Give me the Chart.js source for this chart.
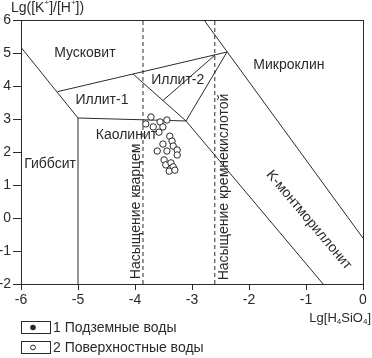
<!DOCTYPE html>
<html><head><meta charset="utf-8">
<script src="https://cdn.jsdelivr.net/npm/chart.js@4"></script>
<style>html,body{margin:0;padding:0;background:#fff}#wrap{width:372px;height:358px}</style>
</head><body><div id="wrap"><canvas id="c" width="372" height="358"></canvas></div>
<script>
// ---- data ----
const xTicks = [-6,-5,-4,-3,-2,-1,0];
const yTicks = [-2,-1,0,1,2,3,4,5,6];
// surface water samples: Lg[H4SiO4], Lg([K+]/[H+])
const surfaceX = [-3.72,-3.56,-3.44,-3.81,-3.68,-3.51,-3.58,-3.39,-3.51,-3.35,-3.61,-3.44,-3.33,-3.26,-3.26,-3.49,-3.46,-3.37,-3.33,-3.40,-3.30];
const surfaceY = [3.06,2.91,2.97,2.85,2.76,2.76,2.60,2.48,2.24,2.33,2.03,2.03,2.18,2.06,1.91,1.76,1.61,1.67,1.55,1.42,1.45];
const groundX = [];
const groundY = [];
// phase boundaries
const lineGibbsiteMuscovite = [[-6,5.17],[-5,3.03]];
const lineGibbsiteKaolinite = [[-5,-2],[-5,3.03]];
const lineKaoliniteIllite1 = [[-5,3.03],[-3.105,2.94]];
const lineMuscoviteIllite = [[-5.356,3.83],[-2.386,5.03]];
const lineIllite1Illite2 = [[-4.035,4.364],[-3.105,2.94]];
const lineIllite2Right = [[-3.51,3.56],[-2.596,4.94]];
const lineKmontLeftTop = [[-2.386,5.03],[-3.105,2.94]];
const lineKaoliniteKmont = [[-3.105,2.94],[-0.70,-2]];
const lineMicrocline = [[-2.79,6],[0,-0.61]];
const quartzSaturation = [[-3.86,-2],[-3.86,6]];
const silicaSaturation = [[-2.6,-2],[-2.6,6]];
// texts
const regionNames = ['Мусковит','Иллит-1','Иллит-2','Каолинит','Гиббсит','Микроклин','K-монтмориллонит','Насыщение кварцем','Насыщение кремнекислотой'];
const regionX = [-4.88,-4.58,-3.25,-4.15,-5.49,-1.30,-0.95,-3.98,-2.44];
const regionY = [5.0,3.58,4.18,2.52,1.64,4.64,-0.06,0.2,0.94];
const seriesNames = ['1 Подземные воды','2 Поверхностные воды'];

// ---- build ----
const ink = '#2a2a2a';
const FONT = '"Liberation Sans", Arial, sans-serif';
const pts = (xs, ys) => xs.map((x,i)=>({x, y: ys[i]}));
const seg = a => a.map(p=>({x:p[0], y:p[1]}));
const lineDs = (a, dash) => ({type:'line', data: seg(a), borderColor: ink, borderWidth: 1, pointRadius: 0, borderDash: dash||[], fill:false, tension:0});

const datasets = [
  {label: seriesNames[1], data: pts(surfaceX, surfaceY), pointRadius: 3.2, pointBackgroundColor:'#fff', pointBorderColor: ink, pointBorderWidth: 1, showLine:false},
  {label: seriesNames[0], data: pts(groundX, groundY), pointRadius: 3, pointBackgroundColor: ink, pointBorderColor: ink, showLine:false},
  lineDs(lineGibbsiteMuscovite), lineDs(lineGibbsiteKaolinite), lineDs(lineKaoliniteIllite1),
  lineDs(lineMuscoviteIllite), lineDs(lineIllite1Illite2), lineDs(lineIllite2Right),
  lineDs(lineKmontLeftTop), lineDs(lineKaoliniteKmont), lineDs(lineMicrocline),
  lineDs(quartzSaturation,[4,3]), lineDs(silicaSaturation,[4,3])
];

function runsWidth(ctx, runs, size){
  let w = 0;
  for (const [t, kind] of runs){
    const s = kind==='n' ? size : Math.round(size*0.6);
    ctx.font = s + 'px ' + FONT; w += ctx.measureText(t).width;
  }
  return w;
}
function drawRuns(ctx, runs, x, y, size){
  for (const [t, kind] of runs){
    const s = kind==='n' ? size : Math.round(size*0.6);
    ctx.font = s + 'px ' + FONT;
    const dy = kind==='sup' ? -size*0.35 : kind==='sub' ? size*0.3 : 0;
    ctx.fillText(t, x, y + dy);
    x += ctx.measureText(t).width;
  }
}

const labelsPlugin = {
  id: 'labels',
  afterDatasetsDraw(chart){
    const {ctx, chartArea: a, scales: {x, y}} = chart;
    ctx.save();
    ctx.strokeStyle = ink; ctx.lineWidth = 1;
    ctx.strokeRect(Math.round(a.left)+0.5, Math.round(a.top)+0.5, Math.round(a.right-a.left), Math.round(a.bottom-a.top));
    ctx.fillStyle = ink;
    ctx.textAlign = 'center'; ctx.textBaseline = 'middle';
    ctx.font = '14px ' + FONT;
    const rot = [0,0,0,0,0,0,50,-90,-90];
    regionNames.forEach((n,i)=>{
      const px = x.getPixelForValue(regionX[i]), py = y.getPixelForValue(regionY[i]);
      ctx.save(); ctx.translate(px, py); ctx.rotate(rot[i]*Math.PI/180);
      ctx.fillText(n, 0, 0); ctx.restore();
    });
    // axis titles
    ctx.textAlign = 'left';
    drawRuns(ctx, [['Lg([K','n'],['+','sup'],[']/[H','n'],['+','sup'],['])','n']], 11, 8, 14);
    const xt = [['Lg[H','n'],['4','sub'],['SiO','n'],['4','sub'],[']','n']];
    drawRuns(ctx, xt, chart.width - 1 - runsWidth(ctx, xt, 13), 318, 13);
    // legend
    const lx = a.left, ly = a.bottom + 37;
    ctx.lineWidth = 1;
    for (let i=0;i<2;i++){
      const top = ly + i*20;
      ctx.strokeRect(lx+0.5, top+0.5, 29, 12);
      ctx.beginPath();
      ctx.arc(lx+12, top+6.5, i===0?2.8:2.4, 0, Math.PI*2);
      if (i===0){ ctx.fill(); } else { ctx.stroke(); }
      ctx.font = '14px ' + FONT;
      ctx.fillText(seriesNames[i], lx+32, top+7);
    }
    ctx.restore();
  }
};

new Chart(document.getElementById('c'), {
  type: 'scatter',
  data: { datasets },
  options: {
    responsive: false, animation: false, devicePixelRatio: 1,
    layout: { padding: { top: 20, right: 9, left: 0, bottom: 0 } },
    plugins: { legend: { display: false }, tooltip: { enabled: false } },
    scales: {
      x: { type:'linear', min: -6, max: 0,
        afterBuildTicks: s => { s.ticks = xTicks.map(v=>({value:v})); },
        afterFit: s => { s.height = 74; },
        ticks: { color: ink, font: { size: 14, family: FONT }, padding: 2, maxRotation: 0 },
        grid: { drawOnChartArea: false, drawTicks: true, tickLength: 6, color: ink },
        border: { color: ink } },
      y: { type:'linear', min: -2, max: 6,
        afterBuildTicks: s => { s.ticks = yTicks.map(v=>({value:v})); },
        afterFit: s => { s.width = 21; },
        ticks: { color: ink, font: { size: 14, family: FONT }, padding: 2 },
        grid: { drawOnChartArea: false, drawTicks: true, tickLength: 8, color: ink },
        border: { color: ink } }
    }
  },
  plugins: [labelsPlugin]
});
</script></body></html>
